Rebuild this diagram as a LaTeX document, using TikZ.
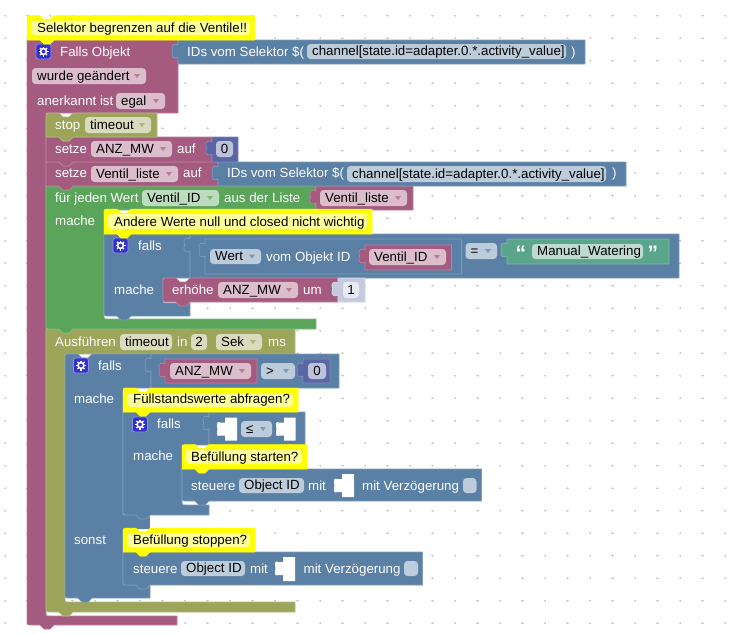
\documentclass[tikz,border=0pt]{standalone}
\usepackage{fontspec}
\setmainfont{Liberation Sans}
\definecolor{mg}{HTML}{A55B80}\definecolor{mgF}{HTML}{DBBDCC}
\definecolor{bl}{HTML}{5B80A5}\definecolor{blF}{HTML}{BDCCDB}
\definecolor{ol}{HTML}{9DA55B}\definecolor{olF}{HTML}{D8DBBD}
\definecolor{gr}{HTML}{5BA55B}\definecolor{grF}{HTML}{BDDBBD}
\definecolor{nu}{HTML}{5B67A5}\definecolor{nuF}{HTML}{BDC2DB}
\definecolor{st}{HTML}{5BA58C}\definecolor{stF}{HTML}{BDDBD1}
\definecolor{sh}{HTML}{C6CADF}\definecolor{shF}{HTML}{E8EAF3}
\definecolor{cmY}{HTML}{FFFF00}\definecolor{cmP}{HTML}{FFFF99}
\definecolor{gearb}{HTML}{3333CC}
\definecolor{gridc}{HTML}{CCCCCC}
\newcounter{tn}
\tikzset{
  blk/.style={fill=#1,draw=#1!78!white,line width=0.7pt,line join=round},
  comm/.style={fill=cmY,draw=cmY,line width=0.5pt,line join=round},
  lbl/.style={anchor=base west,inner sep=0pt,text=white,font=\fontsize{13.3}{15}\selectfont},
  ftx/.style={anchor=base west,inner sep=0pt,text=black,font=\fontsize{13.3}{15}\selectfont},
  quo/.style={anchor=base west,inner sep=0pt,text=white,font=\fontsize{21}{22}\selectfont\bfseries},
}
\def\toprad{0}
% style, x1, y1, x2, y2, radius top left, radius bottom left
\newcommand\stmt[7]{\draw[#1] (#2,#3+#6) .. controls (#2,#3) .. (#2+#6,#3) -- (#2+13,#3) -- ++(4,4) -- ++(6,0) -- ++(4,-4) -- (#4,#3) -- (#4,#5) -- (#2+27,#5) -- ++(-4,4) -- ++(-6,0) -- ++(-4,-4) -- (#2+#7,#5) .. controls (#2,#5) .. (#2,#5-#7) -- cycle;}
% style, x1, y1, xcol, ymid, xhead, ybartop, xbar, ybottom
\newcommand\cblk[9]{\draw[#1] (#2,#3+\toprad) .. controls (#2,#3) .. (#2+\toprad,#3) -- (#2+13,#3) -- ++(4,4) -- ++(6,0) -- ++(4,-4) -- (#6,#3) -- (#6,#5) -- (#4,#5) -- (#4,#7-4) .. controls (#4,#7) .. (#4+4,#7) -- (#8,#7) -- (#8,#9) -- (#2+27,#9) -- ++(-4,4) -- ++(-6,0) -- ++(-4,-4) -- (#2+5,#9) .. controls (#2,#9) .. (#2,#9-5) -- cycle;}
% style, x1, y1, x2, y2
\newcommand\val[5]{\draw[#1] (#2,#3) -- (#4,#3) -- (#4,#5) -- (#2,#5) -- (#2,#3+17) .. controls (#2-3,#3+18.5) and (#2-7.5,#3+19) .. (#2-5.5,#3+11) .. controls (#2-7.5,#3+3) and (#2-3,#3+3.5) .. (#2,#3+5) -- cycle;}
\newcommand\hole[4]{\fill[white] (#1+5,#2) -- (#3,#2) -- (#3,#4) -- (#1+5,#4) -- (#1+5,#2+18) -- (#1,#2+18) .. controls (#1-2,#2+19) and (#1-4,#2+19) .. (#1-2.5,#2+11.5) .. controls (#1-4,#2+4) and (#1-2,#2+4) .. (#1,#2+5) -- (#1+5,#2+5) -- cycle;}
\newcommand\lab[3]{\stepcounter{tn}\node[lbl] (t\arabic{tn}) at (#1,#2) {#3};}
% colour, x1, y1, x2, y2, text
\newcommand\fld[6]{\fill[#1F,rounded corners=3.5pt] (#2,#3) rectangle (#4,#5);
  \stepcounter{tn}\node[ftx] (t\arabic{tn}) at (#2+5,#5-4) {#6};}
\newcommand\ddf[6]{\fld{#1}{#2}{#3}{#4}{#5}{#6}\fill[#1!80!white] (#4-12,#3/2+#5/2-2) -- (#4-6,#3/2+#5/2-2) -- (#4-9,#3/2+#5/2+2) -- cycle;}
\newcommand\numf[6]{\fill[#1F,rounded corners=3.5pt] (#2,#3) rectangle (#4,#5);
  \stepcounter{tn}\node[ftx,anchor=base] (t\arabic{tn}) at (#2/2+#4/2,#5-4) {#6};}
\newcommand\gear[2]{\draw[fill=gearb,draw=gearb!55!white,rounded corners=2.5pt,line width=0.7pt] (#1,#2) rectangle (#1+15,#2+15);
  \draw[white,line width=1.5pt] (#1+7.5,#2+7.5) circle[radius=2.9];
  \foreach \a in {0,45,...,315}{\draw[white,line width=1.2pt,shift={(#1+7.5,#2+7.5)}] (\a:3) -- (\a:5);}}
% x1, y1, x2, y2, text, text x, text baseline
\newcommand\cmt[7]{\stmt{comm}{#1}{#2}{#3}{#4}{6}{0}
  \fill[cmP,rounded corners=3.5pt] (#1+4,#2+5) rectangle (#3-5,#4-5);
  \stepcounter{tn}\node[ftx] (t\arabic{tn}) at (#6,#7) {#5};}
\begin{document}
\begin{tikzpicture}[x=1pt,y=-1pt]
\useasboundingbox (0,0) rectangle (737,633);
\fill[white] (0,0) rectangle (737,633);
% grid
\foreach \i in {0,...,32}{\foreach \j in {0,...,27}{
  \pgfmathsetmacro\gx{5+22.5*\i}\pgfmathsetmacro\gy{15.7+22.5*\j}
  \draw[gridc,line width=0.5pt] (\gx-1.2,\gy) -- (\gx+1.2,\gy) (\gx,\gy-1.2) -- (\gx,\gy+1.2);}}

% Falls Objekt (event block)
\def\toprad{0}
\cblk{blk=mg}{27}{40}{46}{113}{178}{616}{177}{625}
\val{blk=bl}{178}{40}{585}{64}
\gear{36}{44}
\lab{60}{56}{Falls Objekt}
\lab{187}{56}{IDs vom Selektor \$(}
\fld{bl}{307}{44}{566}{59}{channel[state.id=adapter.0.*.activity\_value]}
\lab{571}{56}{)}
\ddf{mg}{32}{68}{146}{84}{wurde geändert}
\lab{37}{105}{anerkannt ist}
\ddf{mg}{116}{93}{165}{109}{egal}

% Ausführen (timeout)
\def\toprad{0}
\cblk{blk=ol}{46}{329}{65}{354}{295}{602}{295}{612}
\lab{55}{346}{Ausführen}
\fld{ol}{120}{334}{172}{350}{timeout}
\lab{177}{346}{in}
\numf{ol}{191}{334}{207}{350}{2}
\ddf{ol}{216}{334}{262}{350}{Sek}
\lab{268}{346}{ms}

% outer falls / sonst
\def\toprad{5}
\cblk{blk=bl}{65}{354}{123}{388}{151}{585}{150}{598}
\fill[bl] (122,515) rectangle (150,529);
\val{blk=bl}{151}{354}{339}{388}
\val{blk=mg}{165}{359}{257}{383}
\ddf{mg}{170}{363}{251}{379}{ANZ\_MW}
\ddf{bl}{261}{363}{295}{379}{>}
\val{blk=nu}{303}{359}{330}{383}
\numf{nu}{308}{363}{326}{379}{0}
\gear{73.5}{358}
\lab{98}{370}{falls}
\lab{74}{403}{mache}
\lab{74}{544}{sonst}

% sonst stack
\stmt{blk=bl}{123}{552}{422.5}{585}{0}{5}
\lab{133}{573}{steuere}
\fld{bl}{181}{561}{245}{576}{Object ID}
\lab{250}{573}{mit}
\hole{278}{557}{295}{581}
\lab{303.5}{573}{mit Verzögerung}
\fill[blF,rounded corners=3.5pt] (404,561) rectangle (418,576);
\cmt{123}{528}{255}{552}{Befüllung stoppen?}{133}{544}

% inner falls
\def\toprad{0}
\cblk{blk=bl}{123}{412}{182}{445}{209}{505}{209}{515}
\val{blk=bl}{209}{412}{305}{445}
\hole{220}{417.5}{237}{440.5}
\ddf{bl}{241}{421}{272}{437}{≤}
\hole{279}{417.5}{295.5}{440.5}
\gear{132.5}{417}
\lab{157}{428}{falls}
\lab{133}{460}{mache}
\stmt{blk=bl}{182}{469}{481.5}{501}{0}{5}
\lab{191}{490}{steuere}
\fld{bl}{239}{478}{304}{493}{Object ID}
\lab{308}{490}{mit}
\hole{337}{474}{354}{497}
\lab{362}{490}{mit Verzögerung}
\fill[blF,rounded corners=3.5pt] (463,478) rectangle (476.5,493);
\cmt{182}{444.5}{307}{469}{Befüllung starten?}{191}{461}
\cmt{123}{388}{298}{412}{Füllstandswerte abfragen?}{133}{403}

% für jeden
\def\toprad{0}
\cblk{blk=gr}{46}{186}{104}{210}{316}{319}{316}{329}
\val{blk=mg}{316}{186}{413}{210}
\lab{55}{202}{für jeden Wert}
\ddf{gr}{142}{190}{219}{206}{Ventil\_ID}
\lab{224}{202}{aus der Liste}
\ddf{mg}{320}{190}{407}{206}{Ventil\_liste}
\lab{55}{225}{mache}

% inner falls in loop
\def\toprad{0}
\cblk{blk=bl}{104}{234}{163}{278}{190}{303}{190}{316}
\val{blk=bl}{190}{234}{679}{278}
\val{blk=bl}{205}{239}{461.5}{274}
\ddf{bl}{210}{249}{261}{264}{Wert}
\lab{266}{261}{vom Objekt ID}
\val{blk=mg}{365}{245}{451.5}{270}
\ddf{mg}{369}{249}{446}{265}{Ventil\_ID}
\ddf{bl}{465.5}{243}{497}{259}{=}
\val{blk=st}{507}{239}{669}{264}
\stepcounter{tn}\node[quo] (t\arabic{tn}) at (515.5,260) {“};
\fld{st}{532}{244}{643}{259}{Manual\_Watering}
\stepcounter{tn}\node[quo] (t\arabic{tn}) at (647.5,260) {”};
\gear{113}{238}
\lab{138}{250}{falls}
\lab{114}{294}{mache}
\stmt{blk=mg}{163}{278}{338}{302}{5}{5}
\val{blk=sh}{338}{278}{365}{302}
\lab{172}{294}{erhöhe}
\ddf{mg}{218}{282}{298}{298}{ANZ\_MW}
\lab{303}{294}{um}
\numf{sh}{343}{282}{359}{298}{1}
\cmt{104}{209}{372}{234}{Andere Werte null und closed nicht wichtig}{114}{226}

% setze Ventil_liste
\stmt{blk=mg}{46}{162}{218}{186}{0}{0}
\val{blk=bl}{218}{162}{626}{186}
\lab{55}{177}{setze}
\ddf{mg}{91}{166}{178}{182}{Ventil\_liste}
\lab{183}{177}{auf}
\lab{227}{177}{IDs vom Selektor \$(}
\fld{bl}{347}{166}{606}{182}{channel[state.id=adapter.0.*.activity\_value]}
\lab{612}{177}{)}

% setze ANZ_MW
\stmt{blk=mg}{46}{137}{212}{162}{0}{0}
\val{blk=nu}{212}{137}{238}{162}
\lab{55}{153}{setze}
\ddf{mg}{91}{141}{172}{157}{ANZ\_MW}
\lab{177}{153}{auf}
\numf{nu}{216}{141}{233}{157}{0}

% stop
\stmt{blk=ol}{46}{113}{157}{137}{6}{0}
\lab{55}{129}{stop}
\ddf{ol}{85}{117}{151}{133}{timeout}

% top comment
\cmt{27}{15.5}{254.5}{40}{Selektor begrenzen auf die Ventile!!}{37}{32}
\end{tikzpicture}
\end{document}
